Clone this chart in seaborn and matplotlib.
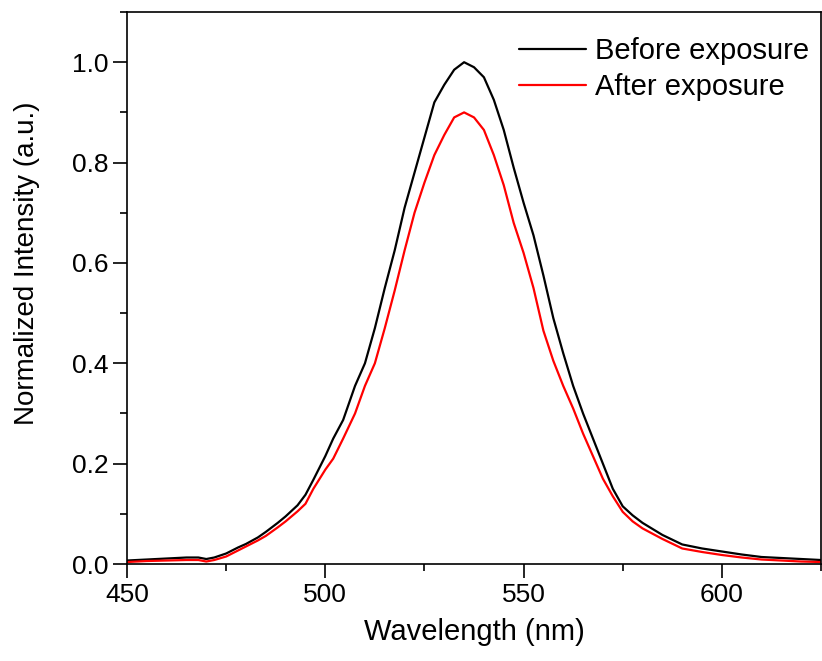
import numpy as np
import pandas as pd
import matplotlib
matplotlib.use('Agg')
import matplotlib.pyplot as plt
from matplotlib.ticker import MultipleLocator
import seaborn as sns

# Wavelength grid (nm)
wavelength = [450, 455, 460, 465, 468, 470, 472, 475, 478, 480, 483, 485, 488, 490,
              493, 495, 497, 500, 502, 504.5, 507.5, 510, 512.5, 515, 517.5, 520,
              522.5, 525, 527.5, 530, 532.5, 535, 537.5, 540, 542.5, 545, 547.5,
              550, 552.5, 555, 557.5, 560, 562.5, 565, 567.5, 570, 572.5, 575,
              577.5, 580, 585, 590, 595, 600, 605, 610, 615, 620, 625]

before = [0.007, 0.009, 0.011, 0.013, 0.013, 0.010, 0.013, 0.021, 0.033, 0.040,
          0.053, 0.064, 0.082, 0.095, 0.117, 0.138, 0.168, 0.215, 0.25, 0.287,
          0.355, 0.40, 0.47, 0.55, 0.625, 0.71, 0.78, 0.85, 0.92, 0.955, 0.985,
          1.0, 0.99, 0.97, 0.925, 0.865, 0.79, 0.72, 0.655, 0.575, 0.49, 0.42,
          0.355, 0.30, 0.25, 0.20, 0.15, 0.115, 0.097, 0.082, 0.058, 0.039, 0.031,
          0.025, 0.019, 0.014, 0.012, 0.010, 0.008]

after = [0.004, 0.006, 0.007, 0.008, 0.008, 0.005, 0.008, 0.015, 0.027, 0.035,
         0.047, 0.056, 0.073, 0.085, 0.105, 0.12, 0.15, 0.188, 0.21, 0.25,
         0.30, 0.355, 0.40, 0.47, 0.545, 0.625, 0.70, 0.76, 0.815, 0.855, 0.89,
         0.90, 0.89, 0.865, 0.815, 0.755, 0.68, 0.62, 0.55, 0.465, 0.405, 0.355,
         0.31, 0.26, 0.215, 0.17, 0.135, 0.104, 0.085, 0.071, 0.050, 0.031, 0.024,
         0.018, 0.013, 0.009, 0.007, 0.005, 0.004]

labels = ['Before exposure', 'After exposure']

df = pd.concat([
    pd.DataFrame({'Wavelength': wavelength, 'Intensity': before, 'Sample': labels[0]}),
    pd.DataFrame({'Wavelength': wavelength, 'Intensity': after, 'Sample': labels[1]}),
])

sns.set_style('ticks')
plt.rcParams['font.family'] = ['Liberation Sans', 'DejaVu Sans']
plt.rcParams['axes.linewidth'] = 1.2
plt.rcParams['text.color'] = 'black'
plt.rcParams['axes.labelcolor'] = 'black'
plt.rcParams['xtick.color'] = 'black'
plt.rcParams['ytick.color'] = 'black'

fig = plt.figure(figsize=(8.22, 6.61), dpi=100)
ax = fig.add_axes([0.1545, 0.1467, 0.8443, 0.8351])

sns.lineplot(data=df, x='Wavelength', y='Intensity', hue='Sample',
             palette={labels[0]: 'black', labels[1]: '#ff0000'},
             linewidth=1.6, ax=ax)

ax.set_xlim(450, 625)
ax.set_ylim(0, 1.1)
ax.xaxis.set_major_locator(MultipleLocator(50))
ax.xaxis.set_minor_locator(MultipleLocator(25))
ax.yaxis.set_major_locator(MultipleLocator(0.2))
ax.yaxis.set_minor_locator(MultipleLocator(0.1))
ax.yaxis.set_major_formatter(plt.FuncFormatter(lambda v, p: f'{v:.1f}'))
ax.tick_params(which='major', direction='out', length=10, width=1.2, labelsize=19,
               top=False, right=False)
ax.tick_params(which='minor', direction='out', length=5, width=1.2,
               top=False, right=False)
for s in ax.spines.values():
    s.set_visible(True)
    s.set_color('black')

ax.set_xlabel('Wavelength (nm)', fontsize=21, labelpad=8)
ax.set_ylabel('Normalized Intensity (a.u.)', fontsize=20)
ax.yaxis.set_label_coords(-0.125, 0.545)

leg = ax.legend(loc='upper right', bbox_to_anchor=(1.0, 0.975), frameon=False,
                fontsize=21, handlelength=2.3, handletextpad=0.3,
                labelspacing=0.25, borderaxespad=0, title=None)

fig.savefig('out.png', dpi=100)
